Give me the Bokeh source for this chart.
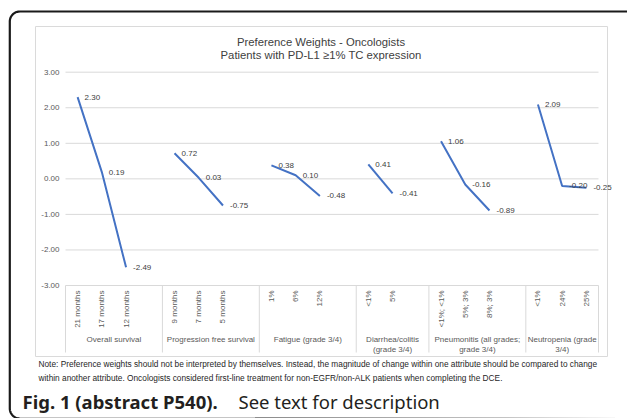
import numpy as np
from bokeh.plotting import figure
from bokeh.models import Range1d
from bokeh.core.properties import value
from bokeh.embed import file_html
from bokeh.resources import INLINE

# ---------------- data ----------------
title_lines = ["Preference Weights - Oncologists",
               "Patients with PD-L1 \u22651% TC expression"]

groups = ["Overall survival", "Progression free survival", "Fatigue (grade 3/4)",
          "Diarrhea/colitis\n(grade 3/4)", "Pneumonitis (all grades;\ngrade 3/4)",
          "Neutropenia (grade\n3/4)"]

os_levels = ["21 months", "17 months", "12 months", ""]
pfs_levels = ["9 months", "7 months", "5 months", ""]
fatigue_levels = ["1%", "6%", "12%", ""]
diarrhea_levels = ["<1%", "5%", ""]
pneumonitis_levels = ["<1%; <1%", "5%; 3%", "8%; 3%", ""]
neutropenia_levels = ["<1%", "24%", "25%"]

os_values = [2.30, 0.19, -2.49, None]
pfs_values = [0.72, 0.03, -0.75, None]
fatigue_values = [0.38, 0.10, -0.48, None]
diarrhea_values = [0.41, -0.41, None]
pneumonitis_values = [1.06, -0.16, -0.89, None]
neutropenia_values = [2.09, -0.20, -0.25]

y_ticks = [3, 2, 1, 0, -1, -2, -3]

note_lines = [
    "Note: Preference weights should not be interpreted by themselves. Instead, the magnitude of change within one attribute should be compared to change",
    "within another attribute.  Oncologists considered first-line treatment for non-EGFR/non-ALK patients when completing the DCE.",
]
caption_bold = "Fig. 1  (abstract P540)."
caption_rest = "See text for description"

level_lists = [os_levels, pfs_levels, fatigue_levels, diarrhea_levels,
               pneumonitis_levels, neutropenia_levels]
value_lists = [os_values, pfs_values, fatigue_values, diarrhea_values,
               pneumonitis_values, neutropenia_values]

# ---------------- layout ----------------
W, H = 627, 418
PL, PR = 65.0, 598.0     # px of category axis start / end
YT, YB = 71.7, 285.0     # px of top / bottom value gridline
n_slots = sum(len(l) for l in level_lists)
sx = (PR - PL) / n_slots
sy = (YB - YT) / (y_ticks[0] - y_ticks[-1])

p = figure(width=W, height=H, output_backend="svg", toolbar_location=None,
           x_range=Range1d(-PL / sx, (W - PL) / sx),
           y_range=Range1d(y_ticks[-1] - (H - YB) / sy, y_ticks[0] + YT / sy),
           x_axis_type=None, y_axis_type=None, min_border=0)
p.extra_x_ranges = {"px": Range1d(0, W)}
p.extra_y_ranges = {"px": Range1d(H, 0)}
p.outline_line_color = None
p.background_fill_color = "white"
p.border_fill_color = "white"

FONT = value("Liberation Sans")
PX = dict(x_range_name="px", y_range_name="px")

# outer rounded frame (top-left and bottom-left corners visible)
r = 10.0
FL, FT, FB = 9.3, 11.0, 418.0
t1 = np.linspace(np.pi, 1.5 * np.pi, 20)
t2 = np.linspace(0.5 * np.pi, np.pi, 20)
fx = np.concatenate([[W + 20], FL + r + r * np.cos(t2[::-1][::-1]), FL + r + r * np.cos(t1), [W + 20]])
fy = np.concatenate([[FB + 0.6], FB - r + r * np.sin(t2), FT + r + r * np.sin(t1), [FT]])
p.line(fx, fy, line_color="#1a1a1a", line_width=2.2, **PX)

# chart panel
p.quad(left=35, right=607, top=26, bottom=356, fill_color="white",
       line_color="#dadada", line_width=1, **PX)

# gridlines
p.segment(x0=[0] * len(y_ticks), x1=[n_slots] * len(y_ticks), y0=y_ticks, y1=y_ticks,
          line_color="#d9d9d9", line_width=1)

# y tick labels
p.text(x=[59] * len(y_ticks), y=y_ticks, text=["%.2f" % v for v in y_ticks],
       x_range_name="px", text_font=FONT, text_font_size="8px", text_color="#595959",
       text_align="right", text_baseline="middle")

# category separators, sub labels, group labels
starts = np.cumsum([0] + [len(l) for l in level_lists])
p.segment(x0=starts, x1=starts, y0=[YB] * len(starts), y1=[352] * len(starts),
          y_range_name="px", line_color="#d9d9d9", line_width=1)

sub_x, sub_t = [], []
for s0, levels in zip(starts, level_lists):
    for i, lab in enumerate(levels):
        if lab:
            sub_x.append(s0 + i + 0.5)
            sub_t.append(lab)
p.text(x=sub_x, y=[290] * len(sub_x), text=sub_t, angle=np.pi / 2,
       y_range_name="px", text_font=FONT, text_font_size="8px", text_color="#595959",
       text_align="right", text_baseline="middle")

group_x = [(a + b) / 2 for a, b in zip(starts[:-1], starts[1:])]
p.text(x=group_x, y=[334] * len(groups), text=groups, y_range_name="px",
       text_font=FONT, text_font_size="8px", text_color="#595959",
       text_align="center", text_baseline="top", text_line_height=1.15)

# data lines and labels
lab_x, lab_y, lab_t = [], [], []
for s0, vals in zip(starts, value_lists):
    xs = [s0 + i + 0.5 for i, v in enumerate(vals) if v is not None]
    ys = [v for v in vals if v is not None]
    p.line(xs, ys, line_color="#4472C4", line_width=2)
    lab_x += xs
    lab_y += ys
    lab_t += ["%.2f" % v for v in ys]
p.text(x=lab_x, y=lab_y, text=lab_t, x_offset=7, text_font=FONT,
       text_font_size="8px", text_color="#404040", text_align="left",
       text_baseline="middle")

# title
p.text(x=[320.5, 320.5], y=[41, 54], text=title_lines, text_font=FONT,
       text_font_size="11.3px", text_color="#404040", text_align="center",
       text_baseline="middle", **PX)

# note
p.text(x=[38, 38], y=[363, 377], text=note_lines, text_font=FONT,
       text_font_size="8.3px", text_color="#262626", text_align="left",
       text_baseline="middle", **PX)

# caption
p.text(x=[22], y=[401], text=[caption_bold], text_font=value("Noto Sans"),
       text_font_size="18.5px", text_font_style="bold", text_color="#231f20",
       text_align="left", text_baseline="middle", **PX)
p.text(x=[238], y=[401], text=[caption_rest], text_font=value("Noto Sans"),
       text_font_size="18.5px", text_color="#231f20",
       text_align="left", text_baseline="middle", **PX)

open("out.html", "w").write(file_html(p, INLINE))
